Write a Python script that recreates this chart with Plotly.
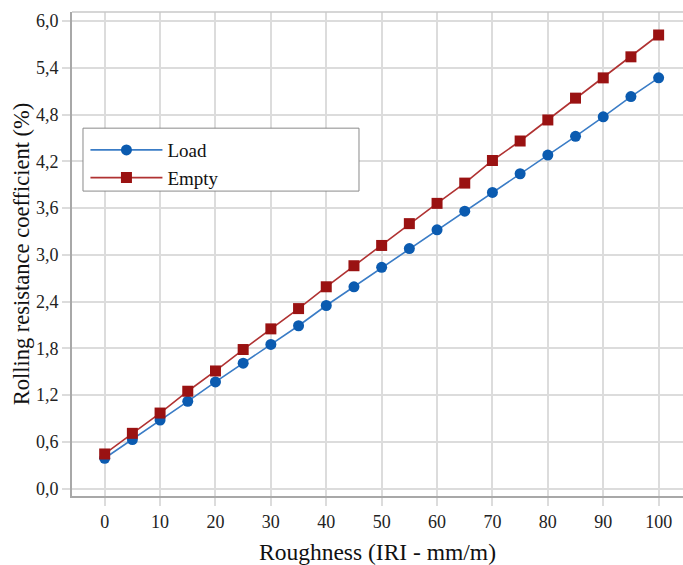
import plotly.graph_objects as go

roughness = [0, 5, 10, 15, 20, 25, 30, 35, 40, 45, 50, 55, 60, 65, 70, 75, 80, 85, 90, 95, 100]
load = [0.39, 0.63, 0.88, 1.12, 1.37, 1.61, 1.85, 2.09, 2.35, 2.59, 2.84, 3.08, 3.32, 3.56, 3.80, 4.04, 4.28, 4.52, 4.77, 5.03, 5.27]
empty = [0.445, 0.71, 0.97, 1.25, 1.51, 1.785, 2.05, 2.31, 2.59, 2.86, 3.12, 3.40, 3.66, 3.92, 4.21, 4.46, 4.73, 5.01, 5.27, 5.54, 5.82]
y_ticks = [0.0, 0.6, 1.2, 1.8, 2.4, 3.0, 3.6, 4.2, 4.8, 5.4, 6.0]
x_ticks = [0, 10, 20, 30, 40, 50, 60, 70, 80, 90, 100]

FONT = "Liberation Serif"

fig = go.Figure()
fig.add_trace(go.Scatter(
    x=roughness, y=load, name="Load", mode="lines+markers",
    line=dict(color="#3a7cc6", width=1.6),
    marker=dict(symbol="circle", size=11, color="#0b5bb0"),
))
fig.add_trace(go.Scatter(
    x=roughness, y=empty, name="Empty", mode="lines+markers",
    line=dict(color="#b03232", width=1.6),
    marker=dict(symbol="square", size=11, color="#9a1212"),
))

# legend frame (wider box, as in the reference)
fig.add_shape(type="rect", xref="paper", yref="paper",
              x0=0.018, x1=0.4697, y0=0.630, y1=0.760,
              line=dict(color="#8a8a8a", width=1), fillcolor="white", layer="above")
# light top frame line
fig.add_shape(type="line", xref="paper", yref="paper",
              x0=0, x1=1, y0=1, y1=1,
              line=dict(color="#c8c8c8", width=1.5), layer="above")

fig.update_layout(
    width=683, height=565,
    margin=dict(l=72, r=0, t=12, b=69),
    paper_bgcolor="white", plot_bgcolor="white",
    separators=",.",
    font=dict(family=FONT, size=18, color="#222222"),
    showlegend=True,
    legend=dict(
        x=0.022, y=0.754, xanchor="left", yanchor="top",
        borderwidth=0, bgcolor="rgba(0,0,0,0)",
        font=dict(family=FONT, size=19, color="#111111"),
        itemwidth=72, tracegroupgap=0,
    ),
    xaxis=dict(
        range=[-5.9, 104.4], tickmode="array", tickvals=x_ticks,
        showgrid=True, gridcolor="#dcdcdc", gridwidth=1.5,
        showline=True, linecolor="#a8a8a8", linewidth=2,
        ticks="outside", ticklen=8, tickcolor="#dcdcdc", tickwidth=1.5,
        zeroline=False,
        title=dict(text="Roughness (IRI - mm/m)", font=dict(size=23.5, family=FONT, color="#111111"), standoff=15),
        tickfont=dict(size=18, family=FONT, color="#222222"),
    ),
    yaxis=dict(
        range=[-0.094, 6.115], tickmode="array", tickvals=y_ticks, tickformat=".1f",
        showgrid=True, gridcolor="#dcdcdc", gridwidth=1.5,
        showline=True, linecolor="#a8a8a8", linewidth=2,
        ticks="outside", ticklen=8, tickcolor="#dcdcdc", tickwidth=1.5,
        zeroline=False,
        title=dict(text="Rolling resistance coefficient (%)", font=dict(size=22.5, family=FONT, color="#111111"), standoff=0),
        tickfont=dict(size=18, family=FONT, color="#222222"),
    ),
)

fig.write_html("out.html")
